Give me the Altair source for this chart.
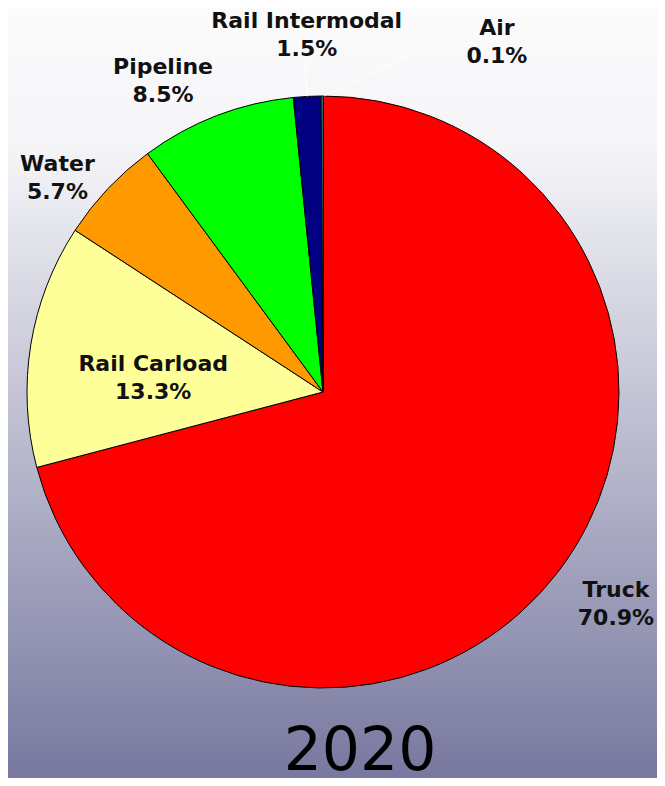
import math
import altair as alt
import pandas as pd

# ---- data ----
categories = ["Truck", "Rail Carload", "Water", "Pipeline", "Rail Intermodal", "Air"]
shares = [70.9, 13.3, 5.7, 8.5, 1.5, 0.1]
colors = ["#FF0000", "#FFFF99", "#FF9900", "#00FF00", "#000080", "#33CCCC"]
year_label = "2020"

df = pd.DataFrame({
    "category": categories,
    "share": shares,
    "order": list(range(len(categories))),
    "label": [f"{c}\n{s}%" for c, s in zip(categories, shares)],
})

W, H = 649, 770
CX, CY = 315, 384
R = 296
FONT = "DejaVu Sans"
LIFT = -13  # multi-line text is anchored on its first line

background = alt.Chart(pd.DataFrame({"a": [0]})).mark_rect(
    color=alt.Gradient(
        gradient="linear",
        stops=[
            alt.GradientStop(color="#fbfbfc", offset=0),
            alt.GradientStop(color="#f5f5f8", offset=0.18),
            alt.GradientStop(color="#7878a0", offset=1),
        ],
        x1=0, x2=0, y1=0, y2=1,
    )
).encode(x=alt.value(0), x2=alt.value(W), y=alt.value(0), y2=alt.value(H))

theta_scale = alt.Scale(domain=[0, 100])

pie = alt.Chart(df).mark_arc(outerRadius=R, stroke="black", strokeWidth=1).encode(
    theta=alt.Theta("share:Q", stack=True, scale=theta_scale),
    order=alt.Order("order:Q"),
    color=alt.Color("category:N", scale=alt.Scale(domain=categories, range=colors), legend=None),
    x=alt.value(CX),
    y=alt.value(CY),
)


def label_layer(cat, radius, dx=0, dy=0):
    return (
        alt.Chart(df)
        .transform_window(cum="sum(share)", sort=[alt.SortField("order")])
        .transform_calculate(mid="datum.cum - datum.share / 2")
        .transform_filter(alt.datum.category == cat)
        .mark_text(
            radius=radius, dx=dx, dy=dy + LIFT, font=FONT, fontSize=22, fontWeight="bold",
            color="#111111", align="center", baseline="middle", lineBreak="\n", lineHeight=28,
        )
        .encode(
            theta=alt.Theta("mid:Q", stack=None, scale=theta_scale),
            text="label:N",
            x=alt.value(CX),
            y=alt.value(CY),
        )
    )


labels = [
    label_layer("Truck", 361, dx=7, dy=-9),
    label_layer("Rail Carload", 172, dy=12),
    label_layer("Water", 342, dx=-17, dy=20),
    label_layer("Pipeline", 345, dx=-36, dy=10),
    label_layer("Rail Intermodal", 361, dx=3, dy=2),
    label_layer("Air", 351, dx=175),
]

# leader lines start at the pie edge, at the mid angle of their slices
cum = 0.0
mids = {}
for c, s in zip(categories, shares):
    mids[c] = (cum + s / 2) / 100 * 2 * math.pi
    cum += s


def edge(cat, r):
    a = mids[cat]
    return CX + r * math.sin(a), CY - r * math.cos(a)


ri_x, ri_y = edge("Rail Intermodal", R)
air_x, air_y = edge("Air", R)
one = pd.DataFrame({"a": [0]})
leaders = [
    alt.Chart(one).mark_rule(color="white", strokeWidth=1).encode(
        x=alt.value(ri_x), y=alt.value(ri_y), x2=alt.value(ri_x - 2), y2=alt.value(ri_y - 37)),
    alt.Chart(one).mark_rule(color="white", strokeWidth=1).encode(
        x=alt.value(air_x + 2), y=alt.value(air_y), x2=alt.value(air_x + 121), y2=alt.value(air_y - 57)),
    alt.Chart(one).mark_rule(color="white", strokeWidth=1).encode(
        x=alt.value(air_x + 121), y=alt.value(air_y - 57), x2=alt.value(air_x + 136), y2=alt.value(air_y - 58)),
]

title = alt.Chart(pd.DataFrame({"t": [year_label]})).mark_text(
    font=FONT, fontSize=60, color="#000000", align="center", baseline="alphabetic"
).encode(text="t:N", x=alt.value(352), y=alt.value(762))

chart = alt.layer(background, pie, *leaders, *labels, title).properties(
    width=W, height=H, autosize=alt.AutoSizeParams(type="none"), padding=0
).configure_view(strokeWidth=0).configure(background="#f8f8fa")

chart.save("out.html", embed_options={"renderer": "svg", "actions": False})
